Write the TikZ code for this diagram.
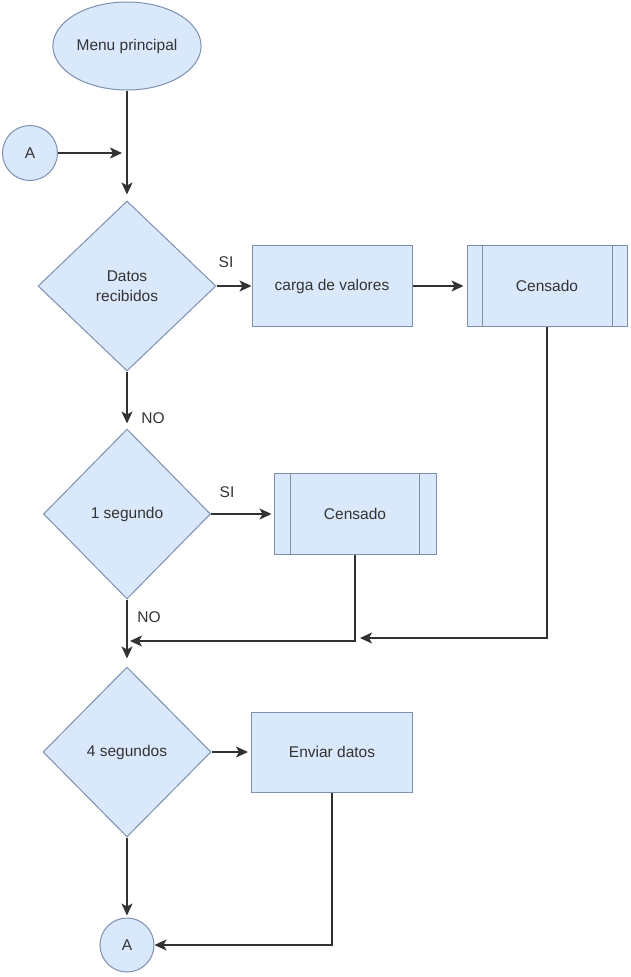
\documentclass[tikz,border=0pt]{standalone}
\usepackage{fontspec}
\setmainfont{Liberation Sans}
\usetikzlibrary{shapes.geometric,arrows.meta}
\definecolor{boxfill}{RGB}{218,232,252}
\definecolor{boxline}{RGB}{125,144,176}
\definecolor{wire}{RGB}{50,50,50}
\begin{document}
\begin{tikzpicture}[x=1pt,y=-1pt,font=\fontsize{15.5}{20}\selectfont,text=black!80]

	\def \midcol{127}
	\tikzstyle{blockbase}=[draw=boxline,fill=boxfill,line width=1pt,inner sep=2pt,align=center]
	\tikzstyle{dec}=[blockbase,diamond,minimum width=170pt,minimum height=170pt]
	\tikzstyle{proc}=[blockbase,rectangle,minimum width=160pt,minimum height=81pt]
	\tikzstyle{conn}=[blockbase,circle,minimum size=55pt]
	\tikzstyle{flow}=[draw=wire,line width=1.3pt,-{Stealth[length=12pt,width=11pt,inset=3pt]}]
	\useasboundingbox (0,0) rectangle (630,977);

	% start
	\node[blockbase,ellipse,minimum width=132pt,minimum height=88pt] (menu) at (\midcol,46) {Menu principal};
	\node[conn] (aIn) at (30,153) {A};
	\coordinate (joinA) at (\midcol,153);

	% first decision
	\node[dec,minimum width=178pt] (recv) at (\midcol,286) {Datos\\recibidos};
	\node[proc] (carga) at (332,286) {carga de valores};
	\node[proc] (cenA) at (547,286) {Censado};
	\node (siA) at (226,262) {SI};

	% second decision
	\node[dec,minimum width=167pt] (seg1) at (\midcol,514) {1 segundo};
	\node[proc,minimum width=162pt] (cenB) at (355,514) {Censado};
	\node (siB) at (227,492) {SI};
	\node (noA) at (153,418) {NO};
	\node (noB) at (149,617) {NO};
	\coordinate (mergeA) at (360,638);
	\coordinate (mergeB) at (130,641);

	% third decision
	\node[dec,minimum width=168pt] (seg4) at (\midcol,752) {4 segundos};
	\node[proc,minimum width=161pt,minimum height=80pt] (envia) at (332,752) {Enviar datos};
	\node[conn,minimum size=54pt] (aOut) at (\midcol,945) {A};

	% side bars of the subprocesses
	\draw[boxline,line width=1pt] ([xshift=16pt]cenA.north west) -- ([xshift=16pt]cenA.south west)
		([xshift=-15pt]cenA.north east) -- ([xshift=-15pt]cenA.south east);
	\draw[boxline,line width=1pt] ([xshift=17pt]cenB.north west) -- ([xshift=17pt]cenB.south west)
		([xshift=-17pt]cenB.north east) -- ([xshift=-17pt]cenB.south east);

	% arrows
	\draw[flow,shorten >=6pt] (menu) -- (recv);
	\draw[flow,shorten >=5pt] (aIn) -- (joinA);
	\draw[flow] (recv.east) -- (carga.west);
	\draw[flow,shorten >=3pt] (carga) -- (cenA);
	\draw[flow] (cenA.south) |- (mergeA);
	\draw[flow,shorten >=5pt] (recv.south) -- (seg1.north);
	\draw[flow,shorten >=2pt] (seg1.east) -- (cenB.west);
	\draw[flow] (cenB.south) |- (mergeB);
	\draw[flow,shorten >=8pt] (seg1.south) -- (seg4.north);
	\draw[flow,shorten >=3pt] (seg4.east) -- (envia.west);
	\draw[flow] (envia.south) |- (aOut.east);
	\draw[flow,shorten >=2pt] (seg4.south) -- (aOut.north);
	\end{tikzpicture}
\end{document}
